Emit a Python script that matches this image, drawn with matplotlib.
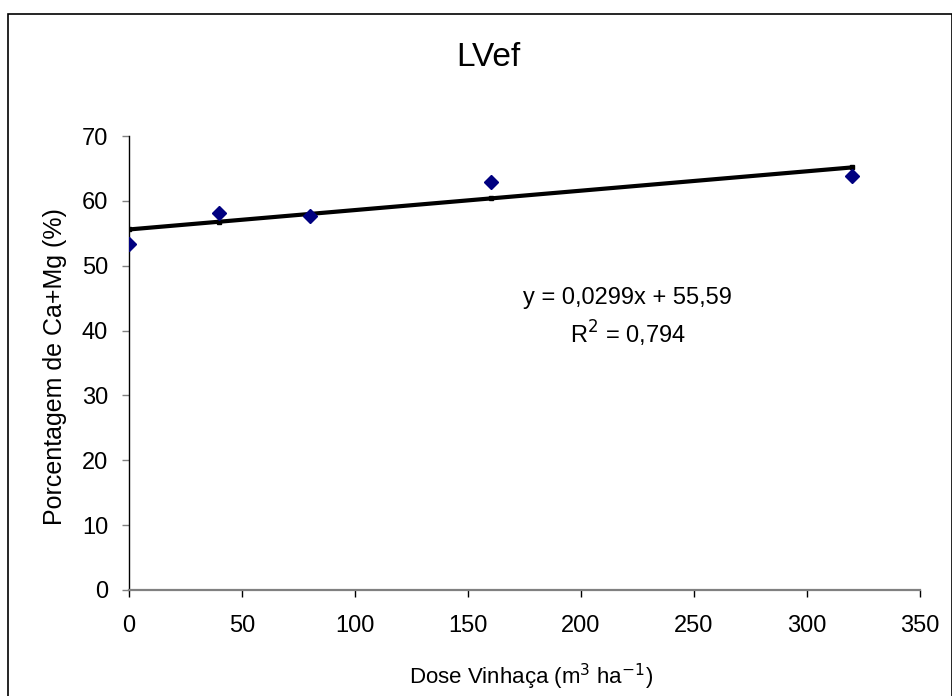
import numpy as np
import matplotlib.pyplot as plt
from matplotlib.patches import Rectangle

plt.rcParams['font.family'] = ['Liberation Sans', 'DejaVu Sans']

dose = np.array([0, 40, 80, 160, 320])
camg = np.array([53.3, 58.1, 57.7, 62.9, 63.8])

# linear fit as reported on the chart
slope = 0.0299
intercept = 55.59
r2_txt = '0,794'

fig = plt.figure(figsize=(9.53, 6.96), dpi=100)

# outer chart frame
fig.patches.append(Rectangle((8/953, -0.05), 944/953, 1.05 - 14/696,
                             transform=fig.transFigure, fill=False,
                             edgecolor='black', linewidth=1.2))

ax = fig.add_axes([129/953, 1 - 590/696, 791/953, 454/696])

fit = intercept + slope*dose
ax.plot(dose, fit, color='black', linewidth=3, marker='s', markersize=3.5,
        zorder=2)
ax.plot(dose, camg, linestyle='none', marker='D', markersize=7.5,
        color='#000080', zorder=3)

ax.set_xlim(0, 350)
ax.set_ylim(0, 70)
ax.set_xticks(np.arange(0, 351, 50))
ax.set_yticks(np.arange(0, 71, 10))

ax.spines['top'].set_visible(False)
ax.spines['right'].set_visible(False)
ax.spines['left'].set_color('black')
ax.spines['left'].set_linewidth(1.0)
ax.spines['bottom'].set_color('#808080')
ax.spines['bottom'].set_linewidth(1.6)
ax.tick_params(axis='y', direction='out', length=5, width=1, color='#808080',
               labelsize=17, pad=10)
ax.tick_params(axis='x', direction='out', length=5, width=1, color='black',
               labelsize=17, pad=13)

fig.text(488/953, 1 - 57/696, 'LVef', fontsize=24, ha='center', va='center')
fig.text(55/953, 1 - 367/696, 'Porcentagem de Ca+Mg (%)', fontsize=18,
         rotation=90, ha='center', va='center')
fig.text(531/953, 1 - 677/696, r'Dose Vinhaça (m$^{3}$ ha$^{-1}$)',
         fontsize=16, ha='center', va='center')

fig.text(627/953, 1 - 298/696, 'y = 0,0299x + 55,59', fontsize=17,
         ha='center', va='center')
fig.text(628/953, 1 - 334/696, r'R$^{2}$ = ' + r2_txt, fontsize=17,
         ha='center', va='center')

plt.savefig('out.png', dpi=100)
plt.close()
